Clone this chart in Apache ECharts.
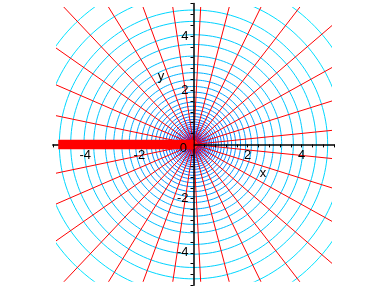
<!DOCTYPE html>
<html><head><meta charset="utf-8">
<script src="https://cdn.jsdelivr.net/npm/echarts@6/dist/echarts.min.js"></script>
<style>html,body{margin:0;padding:0;background:#fff}#c{width:388px;height:288px}</style>
</head><body><div id="c"></div>
<script>
// ---- data ----
const circleRadii = [6.25, 5.55, 4.96, 4.54, 4.05, 3.69, 3.26, 2.95, 2.65, 2.38, 2.14, 1.93, 1.74, 1.56, 1.41, 1.27, 1.14, 1.03, 0.92, 0.83, 0.75, 0.67, 0.61, 0.55, 0.49, 0.44, 0.40, 0.36, 0.32, 0.29, 0.26, 0.24, 0.21, 0.19, 0.17];
const rayAnglesDeg = [5.8, 17.4, 29.0, 40.6, 52.2, 63.8, 75.4, 87.0, 98.6, 110.2, 121.8, 133.4, 145.0, 156.6, 168.2,
  -5.8, -17.4, -29.0, -40.6, -52.2, -63.8, -75.4, -87.0, -98.6, -110.2, -121.8, -133.4, -145.0, -156.6, -168.2];
const cutXRange = [-5.0, 0];          // thick red branch cut along the negative real axis
const majorTicks = [-4, -2, 2, 4];
const axisRange = [-5.2, 5.2];
const tickStep = 0.4;
const plotRange = [-5.05, 5.05];

// ---- layout (pixels) ----
const G0 = { left: 52.8, right: 53.8, top: 3.5, bottom: 2.7 };
const W = 388, H = 288;
const gw = W - G0.left - G0.right, gh = H - G0.top - G0.bottom;
const xOff = -gh * (0 - axisRange[0]) / (axisRange[1] - axisRange[0]);
const yOff = -gw * (0 - axisRange[0]) / (axisRange[1] - axisRange[0]);

// ---- build series ----
const series = [];
const lnMin = Math.log(Math.min(...circleRadii)), lnMax = Math.log(Math.max(...circleRadii));
function circleColor(r) {
  const t = (Math.log(r) - lnMin) / (lnMax - lnMin);
  const g = Math.round(228 * Math.pow(t, 0.9));
  return 'rgb(0,' + g + ',255)';
}
circleRadii.forEach(function (r) {
  const pts = [];
  for (let a = 0; a <= 360; a += 2) {
    const th = a * Math.PI / 180;
    pts.push([r * Math.cos(th), r * Math.sin(th)]);
  }
  series.push({ type: 'line', xAxisIndex: 1, yAxisIndex: 1, data: pts, showSymbol: false, silent: true,
    clip: true, lineStyle: { color: circleColor(r), width: 1 }, z: 2 });
});
const rayLen = 9;
rayAnglesDeg.forEach(function (d) {
  const th = d * Math.PI / 180;
  series.push({ type: 'line', xAxisIndex: 1, yAxisIndex: 1, data: [[0, 0], [rayLen * Math.cos(th), rayLen * Math.sin(th)]],
    showSymbol: false, silent: true, clip: true, lineStyle: { color: '#ff0000', width: 1 }, z: 3 });
});
series.push({ type: 'line', xAxisIndex: 1, yAxisIndex: 1, data: [[cutXRange[0], 0], [cutXRange[1], 0]],
  showSymbol: false, silent: true, clip: true, lineStyle: { color: '#ff0000', width: 9.5, cap: 'butt' }, z: 12 });

const font = { color: '#000', fontSize: 13, fontFamily: 'Liberation Sans, Arial, sans-serif' };
const chart = echarts.init(document.getElementById('c'), null, { renderer: 'canvas' });
chart.setOption({
  animation: false,
  backgroundColor: '#fff',
  grid: [
    { left: G0.left, right: G0.right, top: G0.top, bottom: G0.bottom, containLabel: false, z: 10 },
    { left: 56.9, right: 57.9, top: 7.6, bottom: 6.7, containLabel: false, z: 1 }
  ],
  xAxis: [
    { type: 'value', gridIndex: 0, min: axisRange[0], max: axisRange[1], interval: tickStep, z: 10,
      position: 'bottom', offset: xOff,
      splitLine: { show: false },
      axisLine: { onZero: false, lineStyle: { color: '#000', width: 1.5 } },
      axisTick: { length: 3, lineStyle: { color: '#000', width: 1 } },
      axisLabel: { customValues: majorTicks, margin: 5, ...font } },
    { type: 'value', gridIndex: 1, min: plotRange[0], max: plotRange[1], show: false, splitLine: { show: false } }
  ],
  yAxis: [
    { type: 'value', gridIndex: 0, min: axisRange[0], max: axisRange[1], interval: tickStep, z: 10,
      position: 'left', offset: yOff,
      splitLine: { show: false },
      axisLine: { onZero: false, lineStyle: { color: '#000', width: 1.5 } },
      axisTick: { length: 3, lineStyle: { color: '#000', width: 1 } },
      axisLabel: { customValues: majorTicks, margin: 5, ...font } },
    { type: 'value', gridIndex: 1, min: plotRange[0], max: plotRange[1], show: false, splitLine: { show: false } }
  ],
  graphic: [
    { type: 'text', x: 187, y: 148, z: 20, style: { text: '0', align: 'right', verticalAlign: 'middle', fill: '#000', fontSize: 13, fontFamily: font.fontFamily } },
    { type: 'text', x: 263, y: 173, z: 20, style: { text: 'x', align: 'center', verticalAlign: 'middle', fill: '#000', fontSize: 13, fontFamily: font.fontFamily } },
    { type: 'text', x: 161, y: 76, z: 20, style: { text: 'y', align: 'center', verticalAlign: 'middle', fill: '#000', fontSize: 13, fontFamily: font.fontFamily } }
  ],
  series: series
});
</script></body></html>
